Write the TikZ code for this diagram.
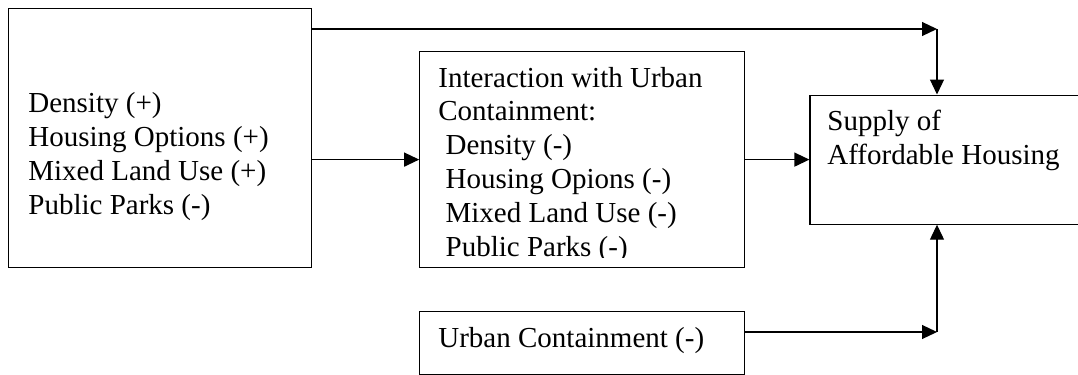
\documentclass[tikz,border=0pt]{standalone}
\usepackage{fontspec}
\setmainfont{Liberation Serif}
\usetikzlibrary{positioning,arrows.meta}

\begin{document}
\begin{tikzpicture}[
        x=0.5pt,y=-0.5pt,
        factor/.style={
          draw,line width=0.6pt,
          inner sep=0pt,
          anchor=north west
        },
        label/.style={
          anchor=base west,align=left,inner sep=0pt,
          font=\fontsize{14.5}{16.9}\selectfont
        },
        link/.style={-{Triangle[length=7.5pt,width=7pt]},line width=0.6pt},
      ]
      \clip (0,0) rectangle (1078,375);
      \node[factor,minimum width=151.5pt,minimum height=129.5pt] (design) at (8,8) {};
      \node[factor,minimum width=162.5pt,minimum height=108pt,
        below right=21.5pt and 53.5pt of design.north east] (interaction) {};
      \node[factor,minimum width=162.5pt,minimum height=31.5pt,
        below=21.5pt of interaction] (containment) {};
      \node[factor,minimum width=145pt,minimum height=64.5pt,
        right=32pt of interaction] (supply) {};

      % base anchor sits on the last line
      \node[label] (designtext) at (28,214) {
        Density (+)\\Housing Options (+)\\Mixed Land Use (+)\\Public Parks (-)
      };
      \begin{scope}
        \clip (interaction.north west) rectangle (743,257);
        \node[label] (interactiontext) at (438,256) {
          Interaction with Urban\\Containment:\\\ Density (-)\\\ Housing Opions (-)\\
          \ Mixed Land Use (-)\\\ Public Parks (-)
        };
      \end{scope}
      \node[label] (containmenttext) at (438,347) {Urban Containment (-)};
      \node[label] (supplytext) at (827,164) {Supply of\\Affordable Housing};

      \coordinate (topturn) at (937,29);
      \coordinate (bottomturn) at (937,332);
      \draw[link] (design.east |- topturn) -- (topturn);
      \draw[link] (topturn) -- (supply.north -| topturn);
      \draw[link] (interaction.west -| design.east) -- (interaction.west);
      \draw[link] (interaction.east) -- (interaction.east -| supply.west);
      \draw[link] (containment.east |- bottomturn) -- (bottomturn);
      \draw[link] (bottomturn) -- (supply.south -| bottomturn);
    \end{tikzpicture}
\end{document}
